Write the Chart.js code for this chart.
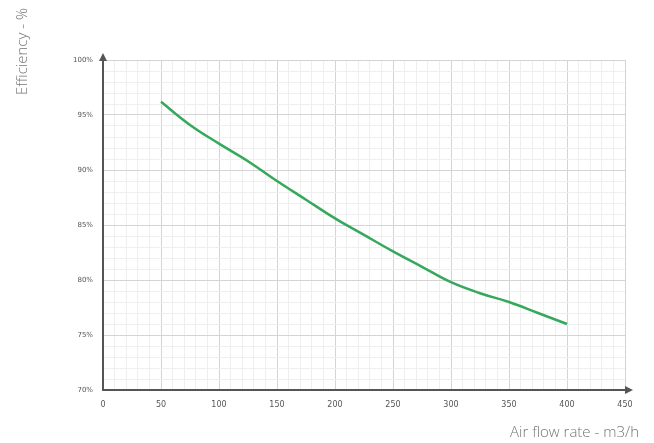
<!DOCTYPE html>
<html>
<head>
<meta charset="utf-8">
<script src="https://cdn.jsdelivr.net/npm/chart.js@4"></script>
<style>
  html, body { margin: 0; padding: 0; background: #fff; }
  #wrap { width: 654px; height: 443px; position: relative; }
</style>
</head>
<body>
<div id="wrap"><canvas id="myCanvas"></canvas></div>
<script>
// air flow rate (m3/h) and efficiency (%)
const flowRates = [50, 75, 100, 125, 150, 175, 200, 225, 250, 275, 300, 325, 350, 375, 400];
const efficiency = [96.2, 94.1, 92.4, 90.8, 89.0, 87.3, 85.6, 84.1, 82.6, 81.2, 79.8, 78.8, 78.0, 77.0, 76.0];
const xTicks = [0, 50, 100, 150, 200, 250, 300, 350, 400, 450];
const yTicks = [70, 75, 80, 85, 90, 95, 100];

const axisColor = '#555';

// arrows on the axes + the two axis captions
const decorations = {
    id: 'decorations',
    afterDraw(chart) {
        const c = chart.ctx;
        const a = chart.chartArea;
        c.save();
        c.fillStyle = axisColor;
        c.strokeStyle = axisColor;
        c.lineWidth = 2;
        // y axis extension + arrow
        c.beginPath();
        c.moveTo(a.left, a.top);
        c.lineTo(a.left, a.top - 2);
        c.stroke();
        c.beginPath();
        c.moveTo(a.left, a.top - 7);
        c.lineTo(a.left - 4, a.top + 1);
        c.lineTo(a.left + 4, a.top + 1);
        c.closePath();
        c.fill();
        // x axis arrow
        c.beginPath();
        c.moveTo(a.right + 8, a.bottom);
        c.lineTo(a.right, a.bottom - 4);
        c.lineTo(a.right, a.bottom + 4);
        c.closePath();
        c.fill();

        c.fillStyle = '#767676';
        c.font = '300 15px "Open Sans", sans-serif';
        c.textAlign = 'right';
        c.textBaseline = 'alphabetic';
        c.fillText('Air flow rate - m3/h', 639, 437);
        c.translate(27, 8);
        c.rotate(-Math.PI / 2);
        c.textAlign = 'right';
        c.fillText('Efficiency - %', 0, 0);
        c.restore();
    }
};

const isMajorX = v => xTicks.includes(v);
const isMajorY = v => yTicks.includes(v);

const config = {
    type: 'line',
    data: {
        datasets: [{
            data: flowRates.map((f, i) => ({ x: f, y: efficiency[i] })),
            borderColor: '#35a85c',
            borderWidth: 2.5,
            pointRadius: 0,
            fill: false,
            tension: 0.4
        }]
    },
    options: {
        responsive: false,
        animation: false,
        layout: { padding: { top: 60, right: 29, left: 0, bottom: 0 } },
        plugins: { legend: { display: false }, tooltip: { enabled: false } },
        scales: {
            x: {
                type: 'linear',
                min: 0,
                max: 450,
                afterFit(scale) { scale.height = 53; },
                border: { color: axisColor, width: 2 },
                grid: {
                    color: ctx => isMajorX(ctx.tick.value) ? '#d4d4d4' : '#efefef',
                    lineWidth: 1,
                    drawTicks: false
                },
                ticks: {
                    stepSize: 10,
                    autoSkip: false,
                    maxRotation: 0,
                    padding: 10,
                    color: '#555',
                    font: { size: 8, family: 'DejaVu Sans' },
                    callback: v => isMajorX(v) ? String(v) : ''
                }
            },
            y: {
                min: 70,
                max: 100,
                afterFit(scale) { scale.width = 103; },
                border: { color: axisColor, width: 2 },
                grid: {
                    color: ctx => isMajorY(ctx.tick.value) ? '#d4d4d4' : '#efefef',
                    lineWidth: 1,
                    drawTicks: false
                },
                ticks: {
                    stepSize: 1,
                    autoSkip: false,
                    padding: 10,
                    color: '#555',
                    font: { size: 7, family: 'DejaVu Sans' },
                    callback: v => isMajorY(v) ? v + '%' : ''
                }
            }
        }
    },
    plugins: [decorations]
};

const canvas = document.getElementById('myCanvas');
canvas.width = 654;
canvas.height = 443;
new Chart(canvas.getContext('2d'), config);
</script>
</body>
</html>
